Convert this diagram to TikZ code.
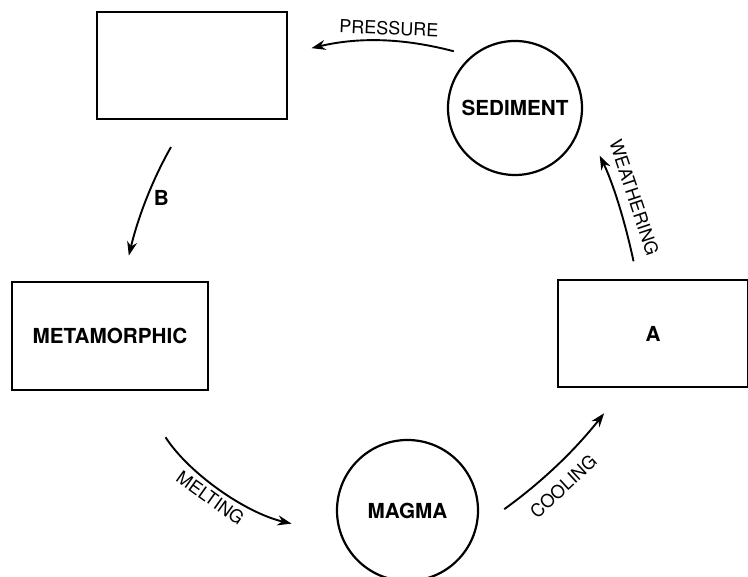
\documentclass[tikz,border=0pt]{standalone}
\usepackage{fontspec}
\setmainfont{TeX Gyre Heros}
\usetikzlibrary{arrows.meta, positioning, calc}

\begin{document}
\begin{tikzpicture}[x=1pt, y=1pt]
    \tikzstyle{rockbox} = [rectangle, minimum width=190pt, minimum height=107pt, draw=black, line width=2.2pt, font=\fontsize{20.7}{24}\selectfont\bfseries]
    \tikzstyle{rockcircle} = [circle, draw=black, line width=2.2pt, font=\fontsize{20.7}{24}\selectfont\bfseries]
    \tikzstyle{arrow} = [line width=1.9pt, -{Stealth[length=14pt, width=10pt]}]
    \tikzstyle{arrowtext} = [font=\fontsize{18}{21}\selectfont, inner sep=3pt]
    \clip (0,0) rectangle (748,577);
    \node (rocktop) [rockbox] at (192,511.5) {};
    \node (sediment) [rockcircle, minimum size=134pt] at (515,469) {SEDIMENT};
    \node (metamorphic) [rockbox, minimum width=196pt, minimum height=108pt] at (110,241) {METAMORPHIC};
    \node (rockA) [rockbox] at (653,243.5) {A};
    \node (magma) [rockcircle, minimum size=141pt] at (407.5,66.5) {MAGMA};
    \draw [arrow, shorten <=18pt, shorten >=24pt] (sediment.130) to [bend right=14] node[arrowtext, sloped, above=3pt, pos=0.45] {PRESSURE} (rocktop.7);
    \draw [arrow, shorten <=31pt, shorten >=26pt] (rocktop.-96) to [bend right=8] node[arrowtext, right=2pt, font=\fontsize{20.7}{24}\selectfont\bfseries] {B} (metamorphic.77);
    \draw [arrow, shorten <=55pt, shorten >=50pt] (metamorphic.-65) to [bend right=22] node[arrowtext, sloped, below=6pt, pos=0.49] {MELTING} (magma.200);
    \draw [arrow, shorten <=34pt, shorten >=32pt] (magma.-15) to [bend right=8] node[arrowtext, sloped, below=10pt, pos=0.45] {COOLING} (rockA.-118);
    \draw [arrow, shorten <=18pt, shorten >=40pt] (rockA.106) to [bend right=7] node[arrowtext, sloped, above=7pt, pos=0.46] {WEATHERING} (sediment.-10);
\end{tikzpicture}
\end{document}
